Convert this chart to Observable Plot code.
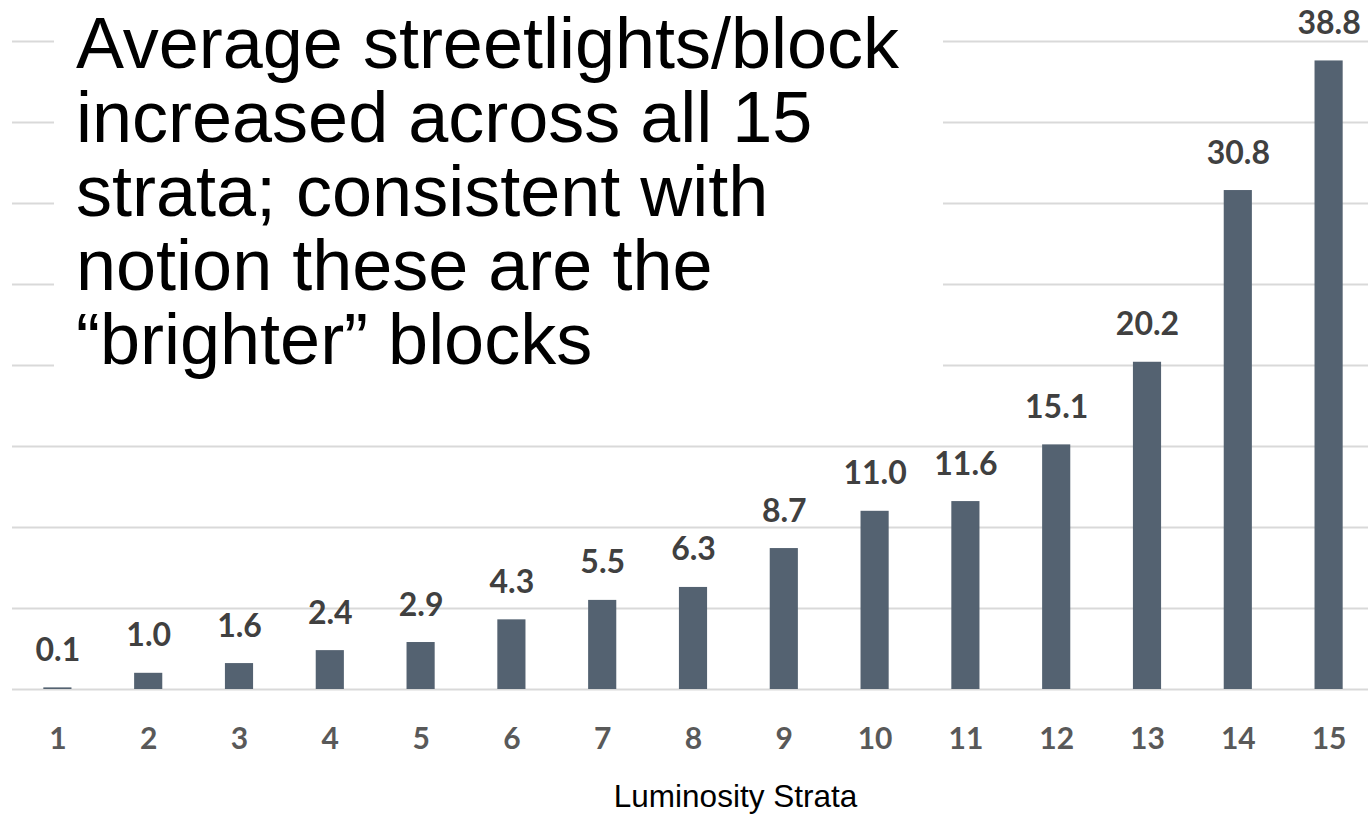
<!DOCTYPE html>
<html>
<head>
<meta charset="utf-8">
<script src="https://cdn.jsdelivr.net/npm/d3@7"></script>
<script src="https://cdn.jsdelivr.net/npm/@observablehq/plot@0.6"></script>
<style>
  html, body { margin: 0; padding: 0; background: #fff; overflow: hidden; }
  #wrap { position: relative; width: 1368px; height: 814px; overflow: hidden; }
  #chart svg { max-width: none !important; }
  #headline {
    position: absolute; left: 54px; top: 0; width: 889px; height: 405px;
    background: #fff; box-sizing: border-box; padding: 6px 0 0 22px;
    font-family: "Liberation Sans", Arial, sans-serif; font-size: 72px; line-height: 74px;
    color: #000;
  }
</style>
</head>
<body>
<div id="wrap">
  <div id="chart"></div>
  <div id="headline">Average streetlights/block<br>increased across all 15<br>strata; consistent with<br>notion these are the<br>“brighter” blocks</div>
</div>
<script>
// Average streetlights per block, by luminosity stratum
const strata = [1, 2, 3, 4, 5, 6, 7, 8, 9, 10, 11, 12, 13, 14, 15];
const avgLights = [0.1, 1.0, 1.6, 2.4, 2.9, 4.3, 5.5, 6.3, 8.7, 11.0, 11.6, 15.1, 20.2, 30.8, 38.8];
const gridValues = [0, 5, 10, 15, 20, 25, 30, 35, 40];
const xLabel = "Luminosity Strata";

const data = strata.map((s, i) => ({stratum: s, value: avgLights[i]}));

const chart = Plot.plot({
  width: 1374,
  height: 814,
  marginLeft: 12,
  marginRight: 0,
  marginTop: 41,
  marginBottom: 125,
  style: {background: "transparent", overflow: "visible", maxWidth: "none"},
  x: {type: "band", domain: strata, paddingInner: 0.69, paddingOuter: 0.345, round: false},
  y: {domain: [0, 40], axis: null},
  marks: [
    Plot.ruleY(gridValues, {stroke: "#d9d9d9", strokeWidth: 2}),
    Plot.barY(data, {x: "stratum", y: "value", fill: "#546271"}),
    Plot.text(data, {
      x: "stratum", y: "value", text: d => d.value.toFixed(1),
      dy: -27, lineAnchor: "bottom",
      fill: "#404040", fontSize: 32, fontWeight: "bold", fontFamily: "Lato, sans-serif"
    }),
    Plot.axisX({
      tickSize: 0, tickPadding: 38, label: null,
      fontSize: 30, fontWeight: "bold", fontFamily: "Lato, sans-serif", color: "#595959"
    }),
    Plot.text([xLabel], {
      frameAnchor: "bottom", dx: 42, dy: 117, lineAnchor: "bottom",
      fontSize: 31.5, fontFamily: "Liberation Sans, Arial, sans-serif", fill: "#000"
    })
  ]
});

document.getElementById("chart").appendChild(chart);
</script>
</body>
</html>
